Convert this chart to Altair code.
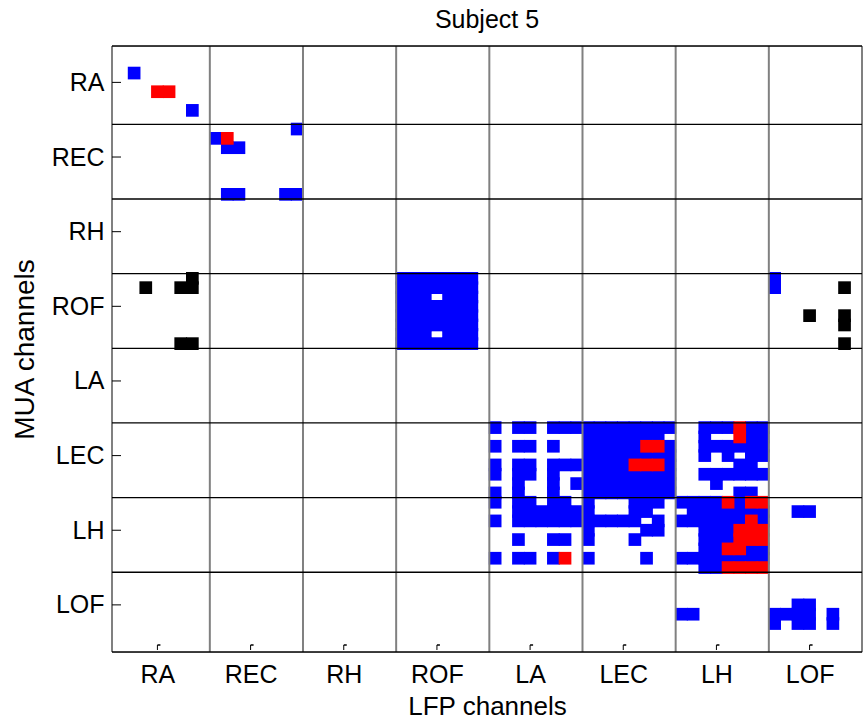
import json
import altair as alt
import pandas as pd

# ---------------- data ----------------
groups = ["RA", "REC", "RH", "ROF", "LA", "LEC", "LH", "LOF"]
chan_per_group = 8

# MUA row index (0-based) -> LFP column indices (0-based)
blue_rows = {
    2: [1],
    6: [6],
    8: [15],
    9: [8],
    10: [9, 10],
    15: [9, 10, 14, 15],
    24: [24, 25, 26, 27, 28, 29, 30, 56],
    25: [24, 25, 26, 27, 28, 29, 30, 56],
    26: [24, 25, 26, 28, 29, 30],
    27: [24, 25, 26, 27, 28, 29, 30],
    28: [24, 25, 26, 27, 28, 29, 30],
    29: [24, 25, 26, 27, 28, 29, 30],
    30: [24, 25, 26, 28, 29, 30],
    31: [24, 25, 26, 27, 28, 29, 30],
    40: [32, 34, 35, 37, 38, 39, 40, 41, 42, 43, 44, 45, 46, 47, 50, 51, 52, 54, 55],
    41: [40, 41, 42, 43, 44, 45, 46, 50, 54, 55],
    42: [32, 34, 35, 37, 40, 41, 42, 43, 44, 47, 50, 51, 52, 53, 54, 55],
    43: [40, 41, 42, 43, 44, 45, 46, 47, 50, 52, 54, 55],
    44: [32, 34, 35, 37, 38, 39, 40, 41, 42, 43, 47, 53, 54],
    45: [32, 34, 35, 37, 40, 41, 42, 43, 44, 45, 46, 47, 50, 51, 52, 53, 54, 55],
    46: [34, 37, 39, 40, 41, 42, 43, 44, 45, 46, 47, 51],
    47: [32, 34, 37, 40, 41, 42, 43, 44, 45, 46, 47, 53, 54],
    48: [32, 34, 35, 37, 38, 40, 44, 45, 46, 48, 49, 50, 51, 53],
    49: [34, 35, 36, 37, 38, 39, 40, 44, 45, 49, 50, 51, 52, 53, 54, 55, 58, 59],
    50: [32, 34, 35, 36, 37, 38, 39, 40, 41, 42, 43, 44, 46, 48, 49, 50, 51, 52, 53, 55],
    51: [40, 45, 46, 50, 51, 52],
    52: [34, 37, 38, 40, 44, 50, 51, 52],
    53: [50, 51, 54, 55],
    54: [32, 34, 35, 37, 40, 45, 48, 49, 50, 51, 52, 53, 54, 55],
    55: [50, 51],
    59: [58, 59],
    60: [48, 49, 56, 57, 58, 59, 61],
    61: [56, 58, 59, 61],
}
red_rows = {
    4: [3, 4],
    9: [9],
    40: [53],
    41: [53],
    42: [45, 46],
    44: [44, 45, 46],
    48: [52, 54, 55],
    50: [54],
    51: [53, 54, 55],
    52: [53, 54, 55],
    53: [52, 53],
    54: [38],
    55: [52, 53, 54, 55],
}
black_rows = {
    24: [6],
    25: [2, 5, 6, 62],
    28: [59, 62],
    29: [62],
    31: [5, 6, 62],
}

kinds = ["blue", "red", "black"]
kind_colors = ["#0000ff", "#ff0000", "#000000"]


def cells(d, kind):
    return [{"lfp": c, "mua": r, "kind": kind} for r, cs in d.items() for c in cs]


df = pd.DataFrame(cells(blue_rows, "blue") + cells(red_rows, "red") + cells(black_rows, "black"))

tick_pos = [g * chan_per_group + 3 for g in range(len(groups))]
bounds = [g * chan_per_group - 0.5 for g in range(1, len(groups))]

x_dom = [-0.9, 63.5]
y_dom = [-0.9, 64.05]
W, H = 750, 606
FONT = "Liberation Sans"

xs = alt.Scale(domain=x_dom, nice=False, zero=False)
ys = alt.Scale(domain=y_dom, nice=False, zero=False, reverse=True)
cs = alt.Scale(domain=kinds, range=kind_colors)

label_expr = json.dumps(groups) + "[round((datum.value - 3) / 8)]"

points = alt.Chart(df).mark_square(size=161, opacity=1, strokeWidth=0).encode(
    x=alt.X("lfp:Q", scale=xs, axis=alt.Axis(
        values=tick_pos, labelExpr=label_expr, ticks=False, domain=False, grid=False,
        labelFontSize=25, labelFont=FONT, labelColor="black", labelPadding=10,
        title="LFP channels", titleFontSize=26, titleFont=FONT, titleFontWeight="normal",
        titleColor="black", titlePadding=6)),
    y=alt.Y("mua:Q", scale=ys, axis=alt.Axis(
        values=tick_pos, labelExpr=label_expr, ticks=False, domain=False, grid=False,
        labelFontSize=25, labelFont=FONT, labelColor="black", labelPadding=8,
        title="MUA channels", titleFontSize=28, titleFont=FONT, titleFontWeight="normal",
        titleColor="black", titlePadding=12)),
    color=alt.Color("kind:N", scale=cs, legend=None),
)

vdf = pd.DataFrame({"pos": [x_dom[0]] + bounds + [x_dom[1]]})
hdf = pd.DataFrame({"pos": [y_dom[0]] + bounds + [y_dom[1]]})
tdf = pd.DataFrame({"pos": tick_pos})

vlines = alt.Chart(vdf).mark_rule(color="#808080", strokeWidth=2).encode(
    x=alt.X("pos:Q", scale=xs), y=alt.value(0), y2=alt.value(H))
hlines = alt.Chart(hdf).mark_rule(color="#000000", strokeWidth=1.3).encode(
    y=alt.Y("pos:Q", scale=ys), x=alt.value(0), x2=alt.value(W))
yticks = alt.Chart(tdf).mark_rule(color="#000000", strokeWidth=1).encode(
    y=alt.Y("pos:Q", scale=ys), x=alt.value(0), x2=alt.value(9))
xticks = alt.Chart(tdf).mark_rule(color="#000000", strokeWidth=1).encode(
    x=alt.X("pos:Q", scale=xs), y=alt.value(H - 7), y2=alt.value(H - 2))
xticks2 = alt.Chart(tdf).mark_rule(color="#000000", strokeWidth=1.5, x2Offset=3).encode(
    x=alt.X("pos:Q", scale=xs), x2=alt.X2("pos"), y=alt.value(H - 7))

chart = alt.layer(points, vlines, hlines, yticks, xticks, xticks2).properties(
    width=W, height=H,
    title=alt.TitleParams("Subject 5", fontSize=25, font=FONT, fontWeight="normal",
                          color="black", anchor="middle", offset=12),
    padding={"left": 112, "top": 46, "right": 1, "bottom": 67},
    autosize=alt.AutoSizeParams(type="none"),
).configure_view(stroke=None).configure(background="white")

chart.save("out.html", embed_options={"renderer": "svg", "actions": False})
